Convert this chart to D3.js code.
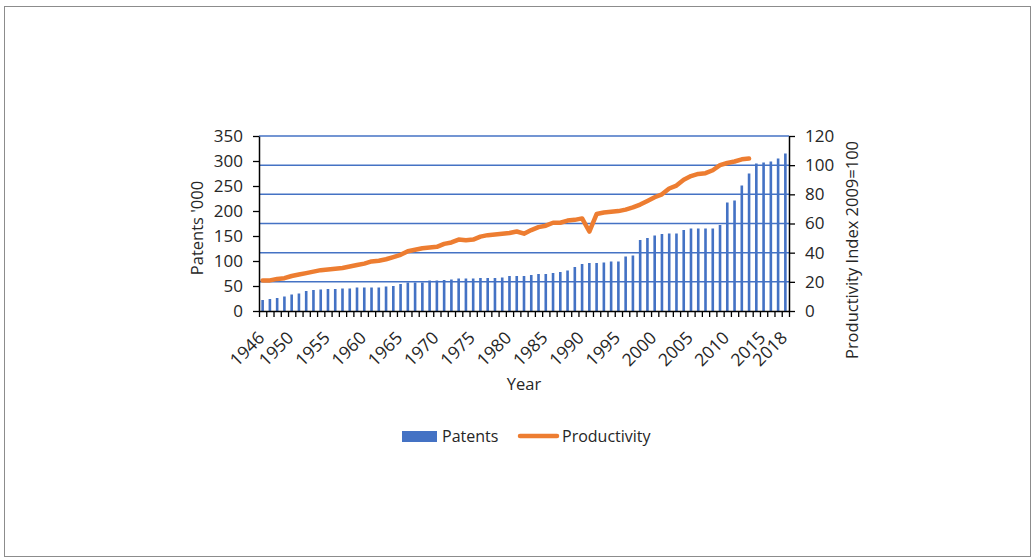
<!DOCTYPE html>
<html>
<head>
<meta charset="utf-8">
<script src="https://cdn.jsdelivr.net/npm/d3@7"></script>
<style>
  body { margin: 0; background: #fff; }
  svg { font-family: "Open Sans", sans-serif; }
</style>
</head>
<body>
<svg width="1035" height="558"></svg>
<script>
// patents granted ('000) and productivity index (2009=100)
var years = d3.range(1946, 2019);
var patents = [22, 24, 26, 29, 33, 35, 40, 42, 43, 44, 44, 45, 45, 47, 47, 47, 47, 49, 50, 54,
  57, 57, 57, 61, 61, 62, 63, 65, 65, 65, 66, 66, 66, 67, 70, 70, 70, 72, 74, 74,
  76, 78, 81, 88, 94, 96, 96, 97, 99, 99, 109, 111, 142, 146, 151, 154, 155, 155, 162, 165,
  165, 165, 165, 172, 217, 221, 251, 275, 295, 297, 299, 305, 315];
var productivity = [21, 21, 22, 22.5, 24, 25, 26, 27, 28, 28.5, 29, 29.5, 30.5, 31.5, 32.5, 34, 34.5, 35.5, 37, 38.5,
  41, 42, 43, 43.5, 44, 46, 47, 49, 48.5, 49, 51, 52, 52.5, 53, 53.5, 54.5, 53, 55.5, 57.5, 58.5,
  60.5, 60.5, 62, 62.5, 63.5, 54.5, 66.5, 67.5, 68, 68.5, 69.5, 71, 73, 75.5, 78, 80, 84, 86, 90, 92.5,
  94, 94.5, 96.5, 100, 101.5, 102.5, 104, 104.5];
var labelYears = [1946, 1950, 1955, 1960, 1965, 1970, 1975, 1980, 1985, 1990, 1995, 2000, 2005, 2010, 2015, 2018];

var svg = d3.select("svg");
var plotLeft = 259, plotRight = 789, plotTop = 136, plotBottom = 311;
var blue = "#4472c4", orange = "#ed7d31", txt = "#262626";

svg.append("rect")
    .attr("x", 4.5).attr("y", 6.5).attr("width", 1026).attr("height", 550)
    .attr("fill", "none").attr("stroke", "#8c8c8c");

var x = d3.scaleBand().domain(years).range([plotLeft, plotRight])
    .paddingInner(0.64).paddingOuter(0.32);
var xEdge = d3.scaleLinear().domain([0, years.length]).range([plotLeft, plotRight]);
var yL = d3.scaleLinear().domain([0, 350]).range([plotBottom, plotTop]);
var yR = d3.scaleLinear().domain([0, 120]).range([plotBottom, plotTop]);

// gridlines follow the right axis
svg.append("g").selectAll("line")
  .data(yR.ticks(6).filter(d => d > 0))
  .enter().append("line")
    .attr("x1", plotLeft).attr("x2", plotRight)
    .attr("y1", d => yR(d)).attr("y2", d => yR(d))
    .attr("stroke", blue).attr("stroke-width", 1.5);

svg.append("g").selectAll("rect")
  .data(years)
  .enter().append("rect")
    .attr("x", d => x(d))
    .attr("width", x.bandwidth())
    .attr("y", (d, i) => yL(patents[i]))
    .attr("height", (d, i) => yL(0) - yL(patents[i]))
    .attr("fill", blue);

var line = d3.line()
    .x((d, i) => x(years[i]) + x.bandwidth() / 2)
    .y(d => yR(d));

svg.append("path")
    .datum(productivity)
    .attr("d", line)
    .attr("fill", "none")
    .attr("stroke", orange)
    .attr("stroke-width", 4.5)
    .attr("stroke-linejoin", "round")
    .attr("stroke-linecap", "round");

function styleAxis(g) {
  g.selectAll(".domain").attr("stroke", "#000").attr("stroke-width", 1.5);
  g.selectAll(".tick line").attr("stroke", "#000").attr("stroke-width", 1.3);
  g.selectAll("text").attr("fill", txt).attr("font-size", 17)
    .attr("font-family", "Open Sans, sans-serif");
}

svg.append("g")
    .attr("transform", "translate(" + plotLeft + ",0)")
    .call(d3.axisLeft(yL).tickValues(d3.range(0, 351, 50)).tickSize(6).tickSizeOuter(0).tickPadding(10))
    .call(styleAxis);

svg.append("g")
    .attr("transform", "translate(" + plotRight + ",0)")
    .call(d3.axisRight(yR).tickValues(d3.range(0, 121, 20)).tickSize(6).tickSizeOuter(0).tickPadding(10))
    .call(styleAxis);

svg.append("g")
    .attr("transform", "translate(0," + plotBottom + ")")
    .call(d3.axisBottom(xEdge).tickValues(d3.range(years.length + 1)).tickFormat("").tickSize(6).tickSizeOuter(0))
    .call(styleAxis);

svg.append("g").selectAll("text")
  .data(labelYears)
  .enter().append("text")
    .attr("transform", d => "translate(" + (x(d) + x.bandwidth() / 2 + 3) + "," + (plotBottom + 28) + ") rotate(-45)")
    .attr("text-anchor", "end")
    .attr("font-size", 17.5)
    .attr("fill", txt)
    .text(d => d);

svg.append("text")
    .attr("transform", "translate(203,228) rotate(-90)")
    .attr("text-anchor", "middle")
    .attr("font-size", 16.5).attr("fill", txt)
    .text("Patents '000");

svg.append("text")
    .attr("transform", "translate(858,250) rotate(-90)")
    .attr("text-anchor", "middle")
    .attr("font-size", 16.5).attr("fill", txt)
    .text("Productivity Index 2009=100");

svg.append("text")
    .attr("x", (plotLeft + plotRight) / 2).attr("y", 390)
    .attr("text-anchor", "middle")
    .attr("font-size", 16.5).attr("fill", txt)
    .text("Year");

// legend
var legend = svg.append("g");
legend.append("rect")
    .attr("x", 402).attr("y", 431).attr("width", 35).attr("height", 11)
    .attr("fill", blue);
legend.append("text")
    .attr("x", 442).attr("y", 442)
    .attr("font-size", 16).attr("fill", txt)
    .text("Patents");
legend.append("line")
    .attr("x1", 520).attr("x2", 557).attr("y1", 436).attr("y2", 436)
    .attr("stroke", orange).attr("stroke-width", 4.5).attr("stroke-linecap", "round");
legend.append("text")
    .attr("x", 562).attr("y", 442)
    .attr("font-size", 16).attr("fill", txt)
    .text("Productivity");
</script>
</body>
</html>
